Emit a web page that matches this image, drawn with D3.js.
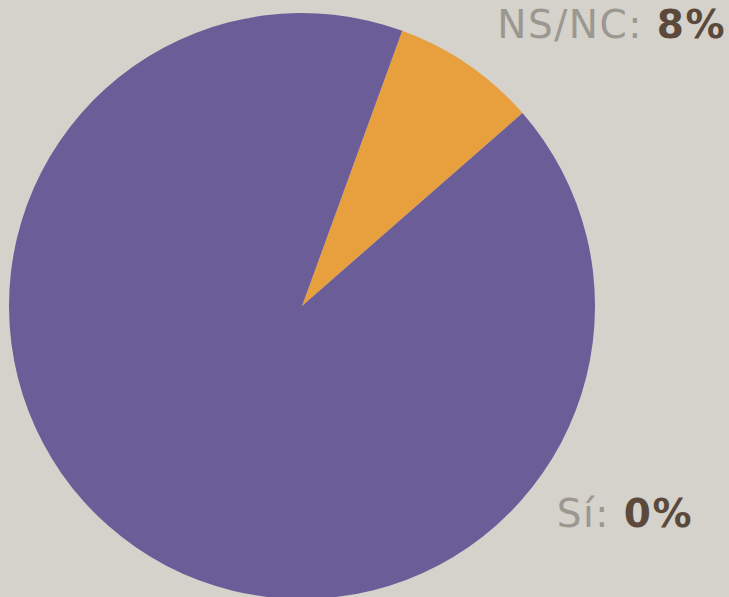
<!DOCTYPE html>
<html>
<head>
<meta charset="utf-8">
<script src="https://cdn.jsdelivr.net/npm/d3@7"></script>
<style>
  html, body { margin: 0; padding: 0; background: #d5d2cb; }
  svg { display: block; }
  .lbl { font-family: "DejaVu Sans", sans-serif; font-size: 39px; letter-spacing: 1.5px; }
</style>
</head>
<body>
<div id="chart"></div>
<script>
// categories and values (percent)
var categories = ["Sí", "NS/NC", "No"];
var values = [0, 8, 92];
var colors = ["#6b5e98", "#e8a03e", "#6b5e98"];
var shownLabels = ["Sí", "NS/NC"];

var width = 729, height = 597;
var cx = 302, cy = 306, radius = 293;

var svg = d3.select("#chart").append("svg")
    .attr("width", width)
    .attr("height", height);

svg.append("rect")
    .attr("width", width)
    .attr("height", height)
    .attr("fill", "#d5d2cb");

var data = categories.map(function(c, i) { return {name: c, value: values[i], color: colors[i]}; });

var pie = d3.pie()
    .sort(null)
    .value(function(d) { return d.value; })
    .startAngle(20 * Math.PI / 180)
    .endAngle(20 * Math.PI / 180 + 2 * Math.PI);

var arc = d3.arc().innerRadius(0).outerRadius(radius);

var g = svg.append("g")
    .attr("transform", "translate(" + cx + "," + cy + ")");

g.selectAll("path")
    .data(pie(data))
    .enter().append("path")
    .attr("d", arc)
    .attr("fill", function(d) { return d.data.color; });

// labels
var labelPos = {
    "NS/NC": {x: 726, y: 38, anchor: "end"},
    "Sí": {x: 693, y: 527, anchor: "end"}
};

data.forEach(function(d) {
    if (shownLabels.indexOf(d.name) < 0) return;
    var p = labelPos[d.name];
    var t = svg.append("text")
        .attr("class", "lbl")
        .attr("x", p.x)
        .attr("y", p.y)
        .attr("text-anchor", p.anchor);
    t.append("tspan")
        .attr("fill", "#9b9791")
        .text(d.name + ": ");
    t.append("tspan")
        .attr("fill", "#5b4a3b")
        .attr("font-weight", "bold")
        .text(d.value + "%");
});
</script>
</body>
</html>
